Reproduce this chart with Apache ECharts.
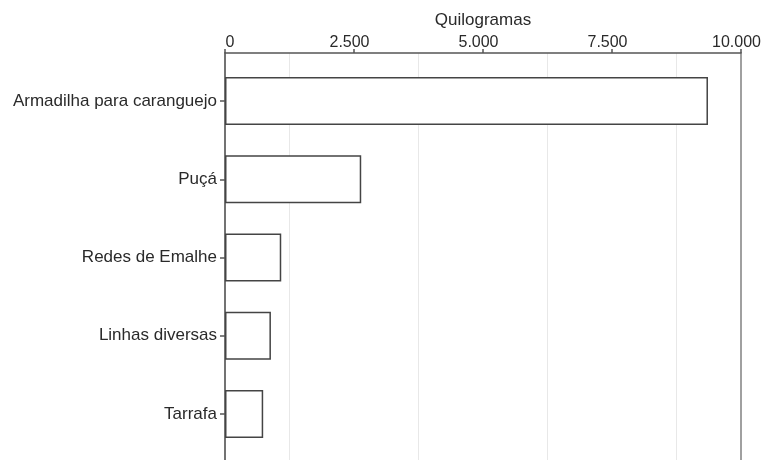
<!DOCTYPE html>
<html>
<head>
<meta charset="utf-8">
<script src="https://cdn.jsdelivr.net/npm/echarts@6/dist/echarts.min.js"></script>
<style>html,body{margin:0;padding:0;background:#fff;}#c{width:764px;height:460px;}</style>
</head>
<body>
<div id="c"></div>
<script>
var categories = ['Armadilha para caranguejo', 'Puçá', 'Redes de Emalhe', 'Linhas diversas', 'Tarrafa'];
var values = [9360, 2640, 1090, 890, 740];
var axisName = 'Quilogramas';
var tickLabels = {0: '0', 2500: '2.500', 5000: '5.000', 7500: '7.500', 10000: '10.000'};

var chart = echarts.init(document.getElementById('c'));
var font = 'Liberation Sans, Arial, sans-serif';
var txt = '#2a2a2a';
chart.setOption({
  animation: false,
  backgroundColor: '#fff',
  grid: [
    {left: 225, right: 23, top: 62, bottom: 7, containLabel: false, outerBoundsMode: 'none'},
    {left: 225, right: 23, top: 53, bottom: -20, containLabel: false, outerBoundsMode: 'none'}
  ],
  xAxis: [{
    gridIndex: 0, type: 'value', min: 0, max: 10000, interval: 2500, show: false
  }, {
    gridIndex: 1, type: 'value', position: 'top', min: 0, max: 10000, interval: 2500,
    name: axisName, nameLocation: 'middle', nameGap: 24,
    nameTextStyle: {color: txt, fontFamily: font, fontSize: 17},
    axisLine: {show: true, onZero: false, lineStyle: {color: '#555', width: 1.5}},
    axisTick: {show: true, length: 4, lineStyle: {color: '#555', width: 1.5}},
    axisLabel: {color: txt, fontFamily: font, fontSize: 16, margin: 2,
      formatter: function(v){
        var s = tickLabels[v] !== undefined ? tickLabels[v] : String(v);
        return v === 0 ? '{z|' + s + '}' : '{n|' + s + '}';
      },
      rich: {
        z: {color: txt, fontFamily: font, fontSize: 16, padding: [0, 0, 0, 10]},
        n: {color: txt, fontFamily: font, fontSize: 16, padding: [0, 9, 0, 0]}
      }},
    splitLine: {show: false},
    minorTick: {show: false, splitNumber: 2},
    minorSplitLine: {show: true, lineStyle: {color: '#e8e8e8', width: 1}}
  }],
  yAxis: [{
    gridIndex: 0, type: 'category', data: categories, inverse: true,
    axisLine: {show: false},
    axisTick: {show: true, alignWithLabel: true, length: 5, lineStyle: {color: '#555', width: 1.5}},
    axisLabel: {color: txt, fontFamily: font, fontSize: 17, margin: 8},
    splitLine: {show: false}
  }, {
    gridIndex: 1, type: 'value', min: 0, max: 1, position: 'left',
    axisLine: {show: true, onZero: false, lineStyle: {color: '#444', width: 1.5}},
    axisTick: {show: false}, axisLabel: {show: false}, splitLine: {show: false}
  }, {
    gridIndex: 1, type: 'value', min: 0, max: 1, position: 'right',
    axisLine: {show: true, onZero: false, lineStyle: {color: '#808080', width: 1.5}},
    axisTick: {show: false}, axisLabel: {show: false}, splitLine: {show: false}
  }],
  series: [{
    type: 'bar', data: values, barWidth: 48, xAxisIndex: 0, yAxisIndex: 0,
    itemStyle: {color: '#fff', borderColor: '#444', borderWidth: 1.5}
  }]
});
</script>
</body>
</html>
